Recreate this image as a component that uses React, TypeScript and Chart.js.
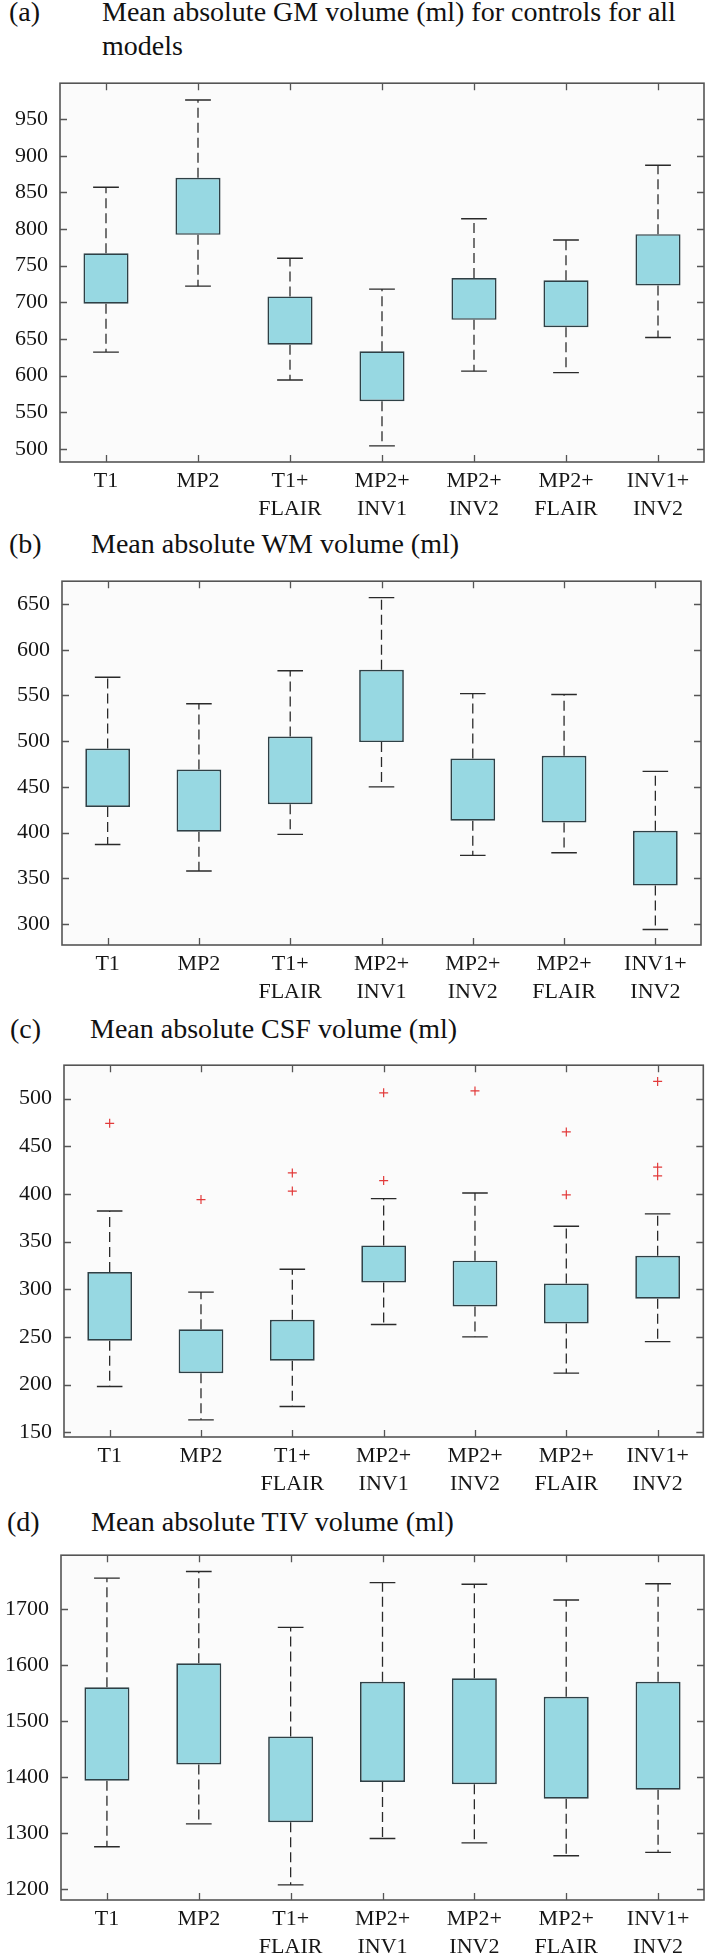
import React, { useEffect, useRef } from "react";
import { Chart, registerables } from "chart.js";

Chart.register(...registerables);

// ---------- data ----------
const categories: string[][] = [
  ["T1"],
  ["MP2"],
  ["T1+", "FLAIR"],
  ["MP2+", "INV1"],
  ["MP2+", "INV2"],
  ["MP2+", "FLAIR"],
  ["INV1+", "INV2"],
];

// (a) GM
const gmMin = [632, 722, 594, 504, 606, 604, 652];
const gmQ1 = [698, 792, 642, 565, 676, 666, 723];
const gmQ3 = [767, 870, 708, 633, 733, 730, 793];
const gmMax = [857, 976, 760, 718, 814, 785, 887];
const gmOutliers: number[][] = [[], [], [], [], [], [], []];
const gmTicks = [500, 550, 600, 650, 700, 750, 800, 850, 900, 950];

// (b) WM
const wmMin = [387, 358, 398, 450, 375, 378, 294];
const wmQ1 = [428, 401, 431, 499, 413, 411, 342];
const wmQ3 = [492, 469, 505, 578, 481, 484, 402];
const wmMax = [570, 541, 577, 657, 552, 551, 467];
const wmOutliers: number[][] = [[], [], [], [], [], [], []];
const wmTicks = [300, 350, 400, 450, 500, 550, 600, 650];

// (c) CSF
const csfMin = [198, 163, 177, 263, 250, 212, 245];
const csfQ1 = [246, 212, 225, 307, 282, 264, 290];
const csfQ3 = [318, 258, 268, 346, 330, 306, 335];
const csfMax = [382, 297, 321, 395, 401, 366, 379];
const csfOutliers: number[][] = [[474], [394], [422, 403], [506, 414], [508], [465, 399], [518, 428, 419]];
const csfTicks = [150, 200, 250, 300, 350, 400, 450, 500];

// (d) TIV
const tivMin = [1276, 1317, 1208, 1291, 1283, 1260, 1266];
const tivQ1 = [1394, 1423, 1320, 1392, 1388, 1362, 1378];
const tivQ3 = [1561, 1604, 1473, 1571, 1577, 1544, 1571];
const tivMax = [1756, 1768, 1668, 1748, 1745, 1717, 1746];
const tivOutliers: number[][] = [[], [], [], [], [], [], []];
const tivTicks = [1200, 1300, 1400, 1500, 1600, 1700];

// ---------- styles ----------
const FONT = '"Liberation Serif", "Times New Roman", serif';
const BOX_FILL = "#97d8e2";
const BOX_EDGE = "#2e4046";
const WHISKER = "#2a2a2a";
const FRAME = "#555555";
const OUTLIER = "#e23a3a";
const CAP_HALF = 0.14;
const PAD_TOP = 16;
const X_AXIS_H = 62;
const W = 709;

type Panel = {
  tag: string;
  titleLines: string[];
  titleLeft: number;
  titleTop: number;
  tagLeft: number;
  plotTop: number;
  plotBottom: number;
  plotLeft: number;
  plotRight: number;
  yMin: number;
  yMax: number;
  ticks: number[];
  mins: number[];
  q1: number[];
  q3: number[];
  maxs: number[];
  outliers: number[][];
};

const panels: Panel[] = [
  {
    tag: "(a)",
    titleLines: ["Mean absolute GM volume (ml) for controls for all", "models"],
    titleLeft: 102, titleTop: -5, tagLeft: 9,
    plotTop: 74, plotBottom: 462, plotLeft: 60, plotRight: 704,
    yMin: 482, yMax: 999, ticks: gmTicks,
    mins: gmMin, q1: gmQ1, q3: gmQ3, maxs: gmMax, outliers: gmOutliers,
  },
  {
    tag: "(b)",
    titleLines: ["Mean absolute WM volume (ml)"],
    titleLeft: 91, titleTop: 527, tagLeft: 9,
    plotTop: 572, plotBottom: 945, plotLeft: 62, plotRight: 701,
    yMin: 277, yMax: 675, ticks: wmTicks,
    mins: wmMin, q1: wmQ1, q3: wmQ3, maxs: wmMax, outliers: wmOutliers,
  },
  {
    tag: "(c)",
    titleLines: ["Mean absolute CSF volume (ml)"],
    titleLeft: 90, titleTop: 1012, tagLeft: 10,
    plotTop: 1056, plotBottom: 1437, plotLeft: 64, plotRight: 705,
    yMin: 145, yMax: 535, ticks: csfTicks,
    mins: csfMin, q1: csfQ1, q3: csfQ3, maxs: csfMax, outliers: csfOutliers,
  },
  {
    tag: "(d)",
    titleLines: ["Mean absolute TIV volume (ml)"],
    titleLeft: 91, titleTop: 1505, tagLeft: 7,
    plotTop: 1546, plotBottom: 1900, plotLeft: 61, plotRight: 704,
    yMin: 1181, yMax: 1797, ticks: tivTicks,
    mins: tivMin, q1: tivQ1, q3: tivQ3, maxs: tivMax, outliers: tivOutliers,
  },
];

const framePlugin = {
  id: "matlabFrame",
  beforeDatasetsDraw(chart: any) {
    const { ctx, chartArea: a } = chart;
    ctx.save();
    ctx.fillStyle = "#fbfbfb";
    ctx.fillRect(a.left, a.top, a.right - a.left, a.bottom - a.top);
    ctx.restore();
  },
  afterDatasetsDraw(chart: any) {
    const { ctx, chartArea: a, scales } = chart;
    const tl = 7;
    ctx.save();
    ctx.strokeStyle = FRAME;
    ctx.lineWidth = 1.3;
    ctx.beginPath();
    for (const t of scales.y.ticks) {
      const p = Math.round(scales.y.getPixelForValue(t.value)) + 0.5;
      ctx.moveTo(a.left, p);
      ctx.lineTo(a.left + tl, p);
      ctx.moveTo(a.right, p);
      ctx.lineTo(a.right - tl, p);
    }
    for (const t of scales.x.ticks) {
      const p = Math.round(scales.x.getPixelForValue(t.value)) + 0.5;
      ctx.moveTo(p, a.bottom);
      ctx.lineTo(p, a.bottom - tl);
      ctx.moveTo(p, a.top);
      ctx.lineTo(p, a.top + tl);
    }
    ctx.stroke();
    ctx.lineWidth = 1.6;
    ctx.strokeRect(a.left, a.top, a.right - a.left, a.bottom - a.top);
    ctx.restore();
  },
};

function BoxPanel({ p }: { p: Panel }) {
  const ref = useRef<HTMLCanvasElement>(null);
  const height = PAD_TOP + (p.plotBottom - p.plotTop) + X_AXIS_H;

  useEffect(() => {
    const n = categories.length;
    const boxes = categories.map((_, i) => ({ x: i + 1, y: [p.q1[i], p.q3[i]] }));
    const whiskers: any[] = [];
    const caps: any[] = [];
    for (let i = 0; i < n; i++) {
      const x = i + 1;
      whiskers.push({ x, y: p.q3[i] }, { x, y: p.maxs[i] }, { x, y: null });
      whiskers.push({ x, y: p.q1[i] }, { x, y: p.mins[i] }, { x, y: null });
      caps.push({ x: x - CAP_HALF, y: p.maxs[i] }, { x: x + CAP_HALF, y: p.maxs[i] }, { x, y: null });
      caps.push({ x: x - CAP_HALF, y: p.mins[i] }, { x: x + CAP_HALF, y: p.mins[i] }, { x, y: null });
    }
    const outs = p.outliers.flatMap((arr, i) => arr.map((v) => ({ x: i + 1, y: v })));

    const chart = new Chart(ref.current as HTMLCanvasElement, {
      type: "bar",
      data: {
        datasets: [
          {
            type: "line",
            label: "outliers",
            data: outs,
            showLine: false,
            pointStyle: "cross",
            pointRadius: 4.5,
            pointBorderColor: OUTLIER,
            pointBorderWidth: 1.2,
            pointBackgroundColor: OUTLIER,
          } as any,
          {
            type: "bar",
            label: "IQR",
            data: boxes as any,
            backgroundColor: BOX_FILL,
            borderColor: BOX_EDGE,
            borderWidth: 1.7,
            borderSkipped: false,
            categoryPercentage: 0.49,
            barPercentage: 1,
          } as any,
          {
            type: "line",
            label: "whiskers",
            data: whiskers,
            borderColor: WHISKER,
            borderWidth: 1.3,
            borderDash: [10, 5],
            pointRadius: 0,
            spanGaps: false,
            fill: false,
            tension: 0,
          } as any,
          {
            type: "line",
            label: "caps",
            data: caps,
            borderColor: WHISKER,
            borderWidth: 1.4,
            pointRadius: 0,
            spanGaps: false,
            fill: false,
            tension: 0,
          } as any,
        ],
      },
      options: {
        responsive: false,
        animation: false,
        devicePixelRatio: 1,
        layout: { padding: { top: PAD_TOP, left: 0, right: W - p.plotRight, bottom: 0 } },
        plugins: { legend: { display: false }, tooltip: { enabled: false }, title: { display: false } },
        scales: {
          x: {
            type: "linear",
            min: 0.5,
            max: categories.length + 0.5,
            offset: false,
            grid: { display: false, drawTicks: false },
            border: { display: false },
            afterBuildTicks: (s: any) => {
              s.ticks = categories.map((_, i) => ({ value: i + 1 }));
            },
            afterFit: (s: any) => {
              s.height = X_AXIS_H;
            },
            ticks: {
              autoSkip: false,
              maxRotation: 0,
              minRotation: 0,
              padding: 6,
              color: "#161616",
              font: { family: FONT, size: 22, lineHeight: 1.245 },
              callback: (v: any) => categories[Math.round(Number(v)) - 1],
            },
          } as any,
          y: {
            type: "linear",
            min: p.yMin,
            max: p.yMax,
            beginAtZero: false,
            grid: { display: false, drawTicks: false },
            border: { display: false },
            afterBuildTicks: (s: any) => {
              s.ticks = p.ticks.map((v) => ({ value: v }));
            },
            afterFit: (s: any) => {
              s.width = p.plotLeft;
            },
            ticks: {
              padding: 12,
              color: "#161616",
              font: { family: FONT, size: 22 },
              callback: (v: any) => String(v),
            },
          } as any,
        },
      },
      plugins: [framePlugin],
    });
    return () => chart.destroy();
  }, []);

  const textStyle: React.CSSProperties = {
    position: "absolute",
    fontFamily: FONT,
    fontSize: 28,
    lineHeight: "34px",
    color: "#111",
    whiteSpace: "nowrap",
  };

  return (
    <>
      <div style={{ ...textStyle, left: p.tagLeft, top: p.titleTop }}>{p.tag}</div>
      <div style={{ ...textStyle, left: p.titleLeft, top: p.titleTop }}>
        {p.titleLines.map((l, i) => (
          <div key={i}>{l}</div>
        ))}
      </div>
      <canvas
        ref={ref}
        width={W}
        height={height}
        style={{ position: "absolute", left: 0, top: p.plotTop - PAD_TOP, width: W, height, display: "block" }}
      />
    </>
  );
}

export default function App() {
  return (
    <div
      style={{
        position: "absolute",
        left: 0,
        top: 0,
        width: W,
        height: 1958,
        background: "#ffffff",
        overflow: "hidden",
      }}
    >
      {panels.map((p) => (
        <BoxPanel key={p.tag} p={p} />
      ))}
    </div>
  );
}
